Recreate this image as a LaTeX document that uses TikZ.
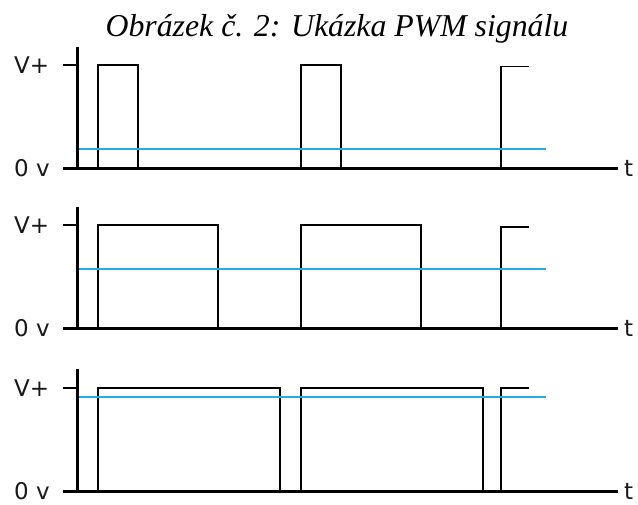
\documentclass[tikz,border=0pt]{standalone}
\usepackage{fontspec}
\setmainfont{Liberation Serif}
\newfontfamily\labelfont{DejaVu Sans}
\definecolor{avgblue}{RGB}{41,171,226}
\begin{document}
\begin{tikzpicture}[x=1pt,y=-1pt,
  axis/.style={line width=3pt, black},
  tick/.style={line width=2pt, black},
  wave/.style={line width=1.8pt, black, line join=miter},
  mean/.style={line width=2pt, avgblue},
  lvl/.style={font=\labelfont\fontsize{23}{23}\selectfont, inner sep=0pt, text=black!90}]
\useasboundingbox (0,0) rectangle (638,504);
\node[font=\itshape\fontsize{31.8}{31.8}\selectfont, anchor=base, inner sep=0pt] (title) at (337,36) {Obrázek č. 2: Ukázka PWM signálu};

% one panel per duty cycle: axis top, V+ level, zero level, pulse width, mean level, last-edge level
\foreach \n/\ya/\yv/\yb/\pw/\ym/\ys in {1/46.7/65/168/40/149/66.5, 2/206.7/225/328/120/269/227, 3/369/388/491/182/397/388} {
  \draw[wave] (98,\yb) -- (98,\yv) -- ({98+\pw},\yv) -- ({98+\pw},\yb);
  \draw[wave] (300.7,\yb) -- (300.7,\yv) -- ({300.7+\pw},\yv) -- ({300.7+\pw},\yb);
  \draw[wave] (500.7,\yb) -- (500.7,\ys) -- (529,\ys);
  \draw[mean] (77.5,\ym) -- (545.7,\ym);
  \draw[axis] (77.5,\ya) -- (77.5,\yb);
  \draw[tick] (63,\yv) -- (77.5,\yv);
  \draw[axis] (63,\yb) -- (618,\yb);
  \node[lvl, anchor=west] (vp\n) at (14,\yv) {V+};
  \node[lvl, anchor=west] (zero\n) at (14,\yb) {0 v};
  \node[lvl, anchor=west] (t\n) at (624,\yb) {t};
}
\end{tikzpicture}
\end{document}
